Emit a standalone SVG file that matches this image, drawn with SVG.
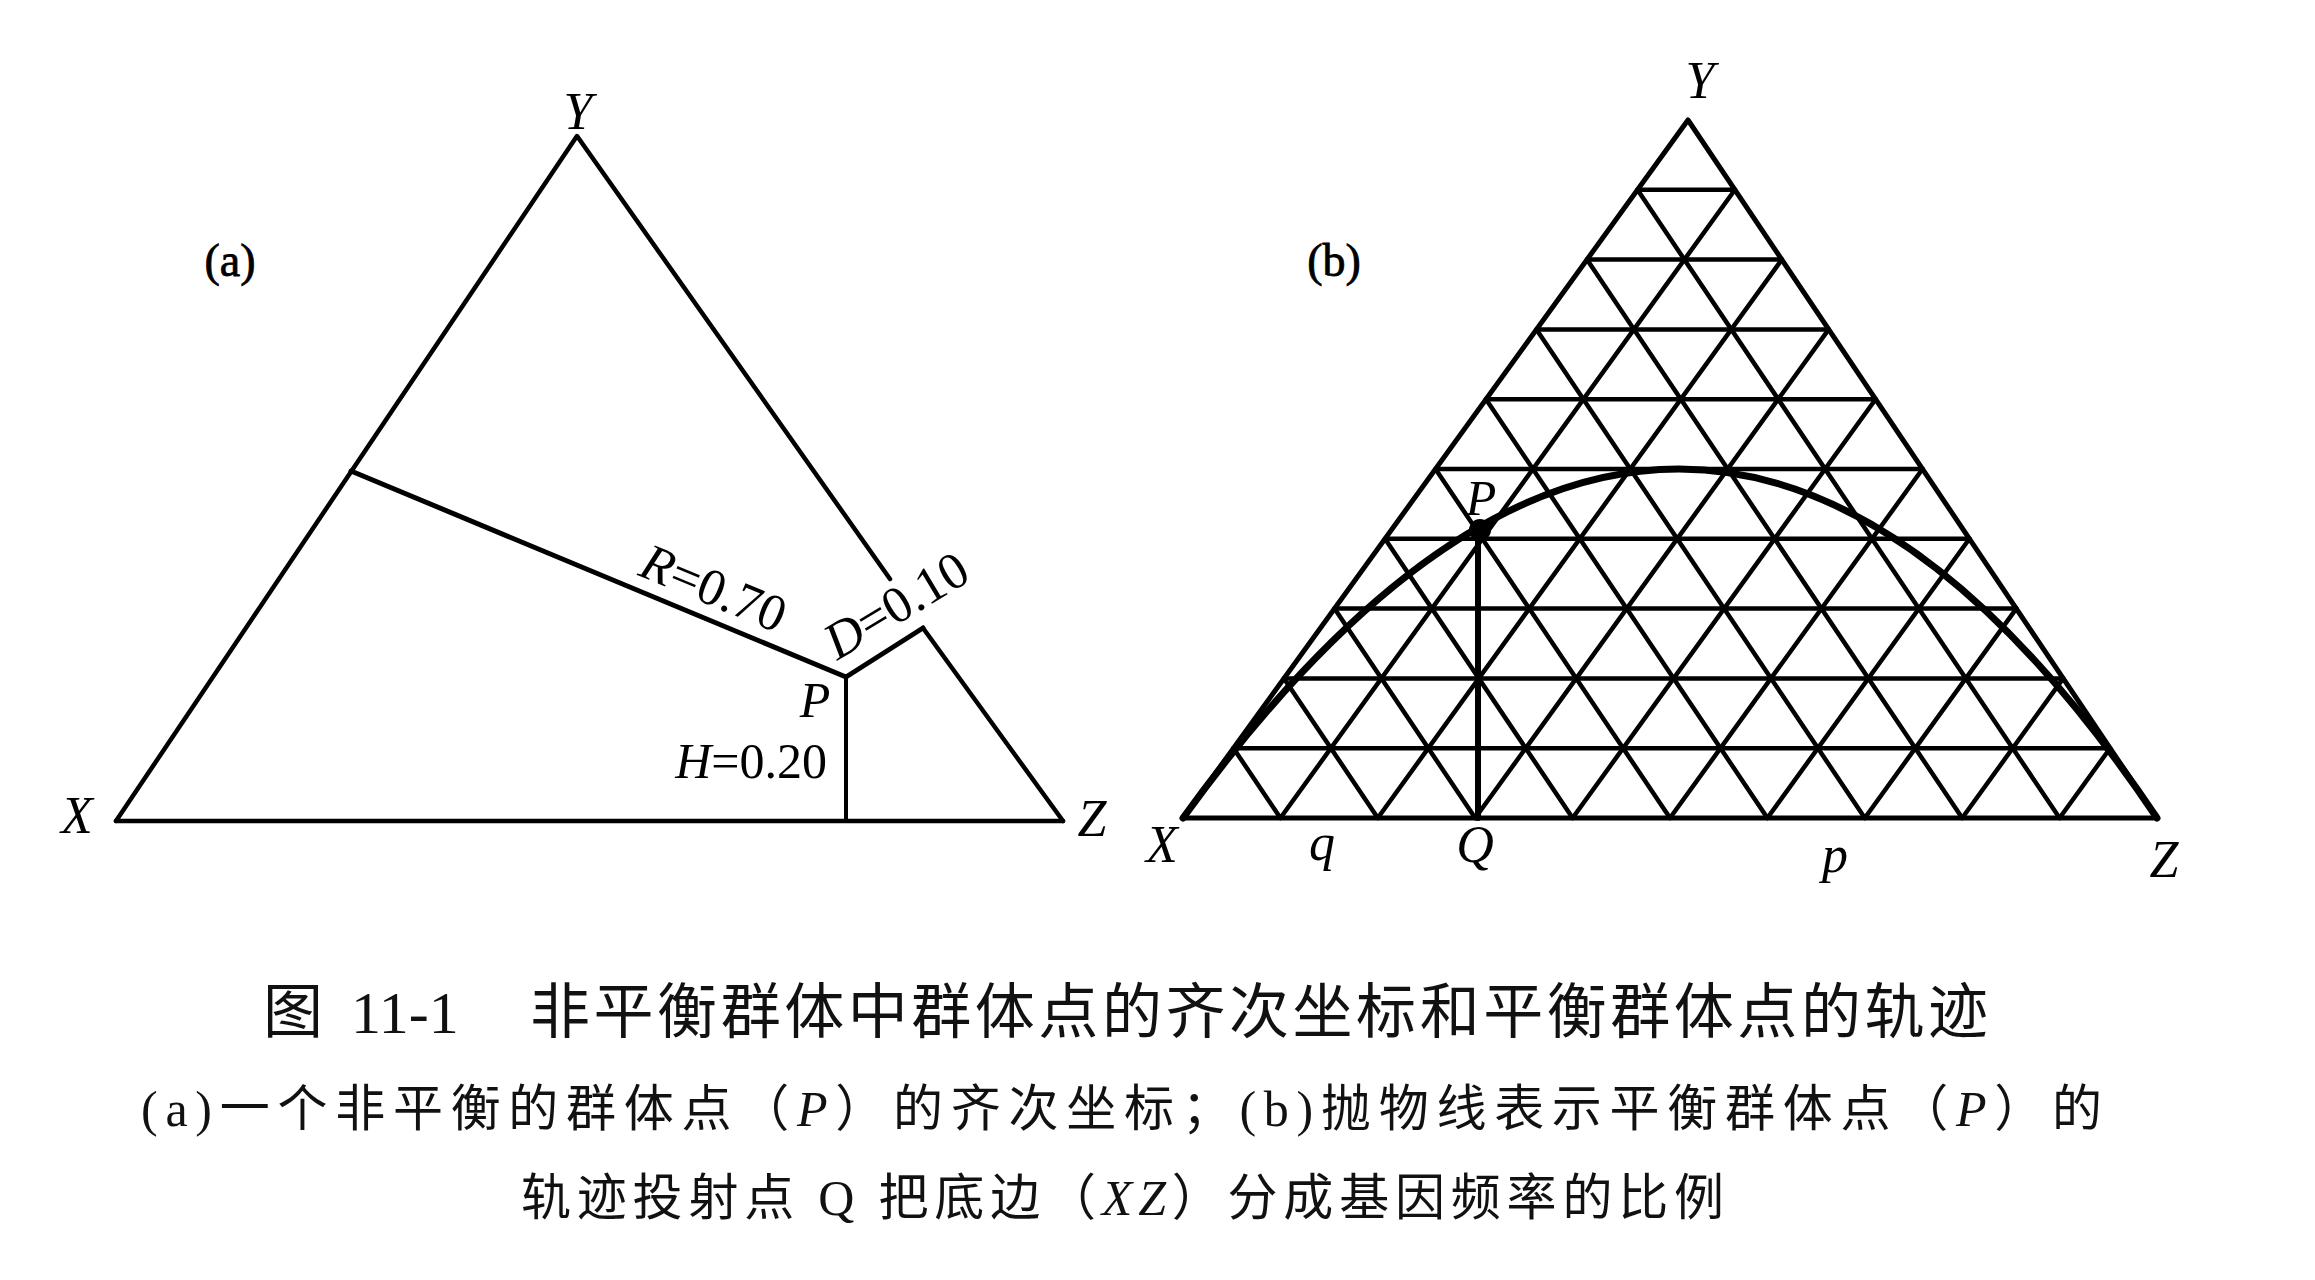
<svg xmlns="http://www.w3.org/2000/svg" width="2315" height="1280" viewBox="0 0 2315 1280">
<style>
.ln{stroke:#000;fill:none;stroke-linecap:round;stroke-linejoin:round}
.t{font-family:"Liberation Serif","Noto Sans CJK SC",serif;fill:#000}
.i{font-style:italic}
.pl{stroke:#000;stroke-width:0.8}
.cap{font-family:"Liberation Serif","Noto Sans CJK SC",serif;fill:#111}
</style>
<rect width="2315" height="1280" fill="#fff"/>
<g id="panel-a">
  <g id="a-triangle" class="ln" stroke-width="4.5">
    <path d="M116,821 L577,136 L890,579 M923,628 L1063,821 Z"/>
    <path d="M116,821 L1063,821"/>
  </g>
  <g id="a-connectors" class="ln" stroke-width="5">
    <path d="M351,471 L846,677"/>
    <path d="M846,677 L923,628"/>
    <path d="M846,677 L846,821" stroke-width="4"/>
  </g>
  <g id="a-labels" class="t">
    <text x="578" y="129" font-size="52" class="i" text-anchor="middle">Y</text>
    <text x="77" y="833" font-size="52" class="i" text-anchor="middle">X</text>
    <text x="1092" y="836" font-size="52" class="i" text-anchor="middle">Z</text>
    <text x="230" y="276" font-size="46" text-anchor="middle" class="pl">(a)</text>
    <text x="815" y="717" font-size="50" class="i" text-anchor="middle">P</text>
    <text x="827" y="778" font-size="50" text-anchor="end"><tspan class="i">H</tspan>=0.20</text>
    <text transform="translate(707,604) rotate(22.6)" font-size="52" text-anchor="middle"><tspan class="i">R</tspan>=0.70</text>
    <text transform="translate(905,620) rotate(-31)" font-size="52" text-anchor="middle"><tspan class="i">D</tspan>=0.10</text>
  </g>
</g>
<g id="panel-b">
  <g id="b-grid" class="ln" stroke-width="4.5">
    <path d="M1233.5,748.2H2110.1M1284,678.4H2063.2M1334.5,608.6H2016.3M1385,538.8H1969.4M1435.5,469H1922.5M1486,399.2H1875.6M1536.5,329.4H1828.7M1587,259.6H1781.8M1637.5,189.8H1734.9"/>
    <path d="M1280.4,818L1734.9,189.8M1377.8,818L1781.8,259.6M1475.2,818L1828.7,329.4M1572.6,818L1875.6,399.2M1670,818L1922.5,469M1767.4,818L1969.4,538.8M1864.8,818L2016.3,608.6M1962.2,818L2063.2,678.4M2059.6,818L2110.1,748.2"/>
    <path d="M1280.4,818L1233.5,748.2M1377.8,818L1284,678.4M1475.2,818L1334.5,608.6M1572.6,818L1385,538.8M1670,818L1435.5,469M1767.4,818L1486,399.2M1864.8,818L1536.5,329.4M1962.2,818L1587,259.6M2059.6,818L1637.5,189.8"/>
  </g>
  <g id="b-triangle" class="ln" stroke-width="5">
    <path d="M1183,818 L1688,120 L2157,818 Z"/>
  </g>
  <g id="b-connectors" class="ln">
    <path d="M1183,818 Q1688,120 2157,818" stroke-width="7"/>
    <path d="M1478,530 L1478,818" stroke-width="6"/>
    <circle cx="1480" cy="530" r="11" fill="#000" stroke="none"/>
  </g>
  <g id="b-labels" class="t">
    <text x="1700" y="98" font-size="52" class="i" text-anchor="middle">Y</text>
    <text x="1334" y="276" font-size="46" text-anchor="middle" class="pl">(b)</text>
    <text x="1481" y="515" font-size="50" class="i" text-anchor="middle">P</text>
    <text x="1162" y="862" font-size="52" class="i" text-anchor="middle">X</text>
    <text x="1322" y="860" font-size="52" class="i" text-anchor="middle">q</text>
    <text x="1475" y="862" font-size="52" class="i" text-anchor="middle">Q</text>
    <text x="1835" y="872" font-size="52" class="i" text-anchor="middle">p</text>
    <text x="2164" y="877" font-size="52" class="i" text-anchor="middle">Z</text>
  </g>
</g>
<g id="caption">
  <text class="cap" x="263" y="1033" font-size="60">图</text>
  <text class="cap" x="351" y="1033" font-size="60">11-1</text>
  <text class="cap" x="530" y="1033" font-size="60" textLength="1458" lengthAdjust="spacing">非平衡群体中群体点的齐次坐标和平衡群体点的轨迹</text>
  <text class="cap" x="141" y="1126" font-size="50" textLength="1961" lengthAdjust="spacing">(a)一个非平衡的群体点（<tspan class="i">P</tspan>）的齐次坐标；(b)抛物线表示平衡群体点（<tspan class="i">P</tspan>）的</text>
  <text class="cap" x="521" y="1215" font-size="50" textLength="1203" lengthAdjust="spacing">轨迹投射点 Q 把底边（<tspan class="i">XZ</tspan>）分成基因频率的比例</text>
</g>
</svg>
